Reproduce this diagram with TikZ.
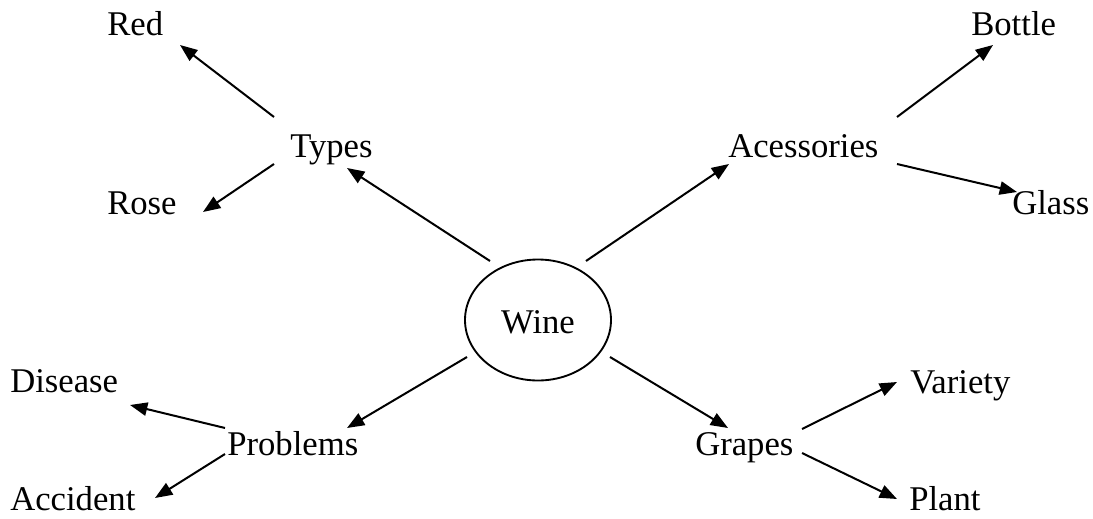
\documentclass[tikz,border=0pt]{standalone}
\usepackage{fontspec}
\setmainfont{Liberation Serif}
\usetikzlibrary{arrows.meta,calc,shapes.geometric}
\begin{document}
\begin{tikzpicture}[x=0.75pt,y=-0.75pt,
  lbl/.style={inner sep=0pt, anchor=base west, font=\fontsize{26}{31}\selectfont},
  hub/.style={draw, line width=1.4pt, ellipse, inner sep=0pt, minimum width=109.5pt, minimum height=90.75pt, text height=19.5pt, text depth=0pt, font=\fontsize{26}{31}\selectfont},
  arr/.style={line width=1.5pt, -{Triangle[length=13pt,width=10pt]}}]
\useasboundingbox (0,0) rectangle (1093,518);

\node[hub] (wine) at (538,320) {Wine\hspace{12pt}};

\node[lbl] (red) at (107,35) {Red};
\node[lbl] (types) at (290,157) {Types};
\node[lbl] (rose) at (107,214) {Rose};
\node[lbl] (acc) at (728,157) {Acessories};
\node[lbl] (bottle) at (971,35) {Bottle};
\node[lbl] (glass) at (1012,214) {Glass};
\node[lbl] (disease) at (10,392) {Disease};
\node[lbl] (problems) at (227,455) {Problems};
\node[lbl] (accident) at (10,510) {Accident};
\node[lbl] (grapes) at (695,455) {Grapes};
\node[lbl] (variety) at (910,393) {Variety};
\node[lbl] (plant) at (909,510) {Plant};

\draw[arr] ($(wine.center)+(-48,-59)$) -- ($(types.base west)+(57,11)$);
\draw[arr] ($(wine.center)+(48,-59)$) -- ($(acc.base west)+(1,7)$);
\draw[arr] ($(wine.center)+(-71,37)$) -- ($(problems.base west)+(120,-27)$);
\draw[arr] ($(wine.center)+(72,37)$) -- ($(grapes.base west)+(33,-27)$);

\draw[arr] ($(types.base west)+(-16,-40)$) -- ($(red.base west)+(73,10)$);
\draw[arr] ($(types.base west)+(-16,7)$) -- ($(rose.base west)+(96,-2)$);

\draw[arr] ($(acc.base west)+(169,-40)$) -- ($(bottle.base west)+(22,10)$);
\draw[arr] ($(acc.base west)+(169,7)$) -- ($(glass.base west)+(5,-22)$);

\draw[arr] ($(problems.base west)+(-2,-27)$) -- ($(disease.base west)+(120,13)$);
\draw[arr] ($(problems.base west)+(-2,-1)$) -- ($(accident.base west)+(145,-12)$);

\draw[arr] ($(grapes.base west)+(107,-26)$) -- ($(variety.base west)+(-13,-11)$);
\draw[arr] ($(grapes.base west)+(107,-2)$) -- ($(plant.base west)+(-12,-11)$);
\end{tikzpicture}
\end{document}
